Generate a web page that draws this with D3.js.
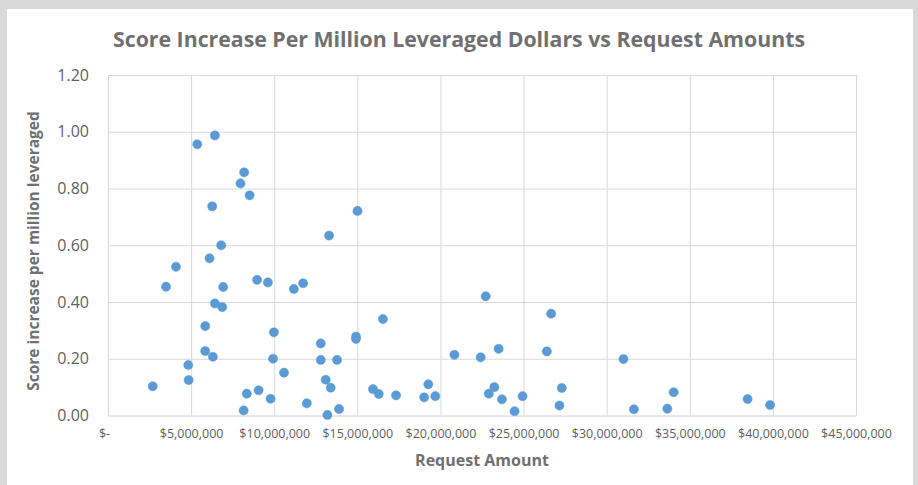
<!DOCTYPE html>
<html>
<head>
<meta charset="utf-8">
<script src="https://cdn.jsdelivr.net/npm/d3@7"></script>
<style>
	body { margin: 0; background: #d9d9d9; }
	.container { width: 918px; height: 485px; }
	text { font-family: "Open Sans", "Noto Sans", sans-serif; fill: #595959; }
</style>
</head>
<body>
<div class="container"></div>
<script>

// request amount in dollars
var requestAmounts = [2.69e6, 3.49e6, 4.09e6, 4.83e6, 4.85e6, 5.37e6, 6.43e6, 5.85e6, 5.85e6, 6.11e6,
	6.27e6, 6.31e6, 6.43e6, 6.81e6, 6.93e6, 6.87e6, 7.97e6, 8.19e6, 8.52e6, 8.16e6,
	8.35e6, 8.97e6, 9.06e6, 9.62e6, 9.78e6, 9.98e6, 9.93e6, 10.59e6, 11.18e6, 11.74e6,
	11.96e6, 12.80e6, 12.80e6, 13.10e6, 13.30e6, 13.40e6, 13.20e6, 13.78e6, 13.90e6, 14.92e6,
	14.92e6, 15.01e6, 15.94e6, 16.29e6, 16.54e6, 17.33e6, 19.02e6, 19.27e6, 19.69e6, 20.84e6,
	22.42e6, 22.72e6, 22.91e6, 23.24e6, 23.50e6, 23.70e6, 24.46e6, 24.94e6, 26.40e6, 26.66e6,
	27.16e6, 27.30e6, 31.01e6, 31.64e6, 33.65e6, 34.03e6, 38.48e6, 39.83e6];

var scoreIncrease = [0.103, 0.454, 0.524, 0.178, 0.125, 0.956, 0.987, 0.315, 0.227, 0.554,
	0.737, 0.207, 0.395, 0.600, 0.453, 0.382, 0.818, 0.857, 0.776, 0.018,
	0.077, 0.478, 0.089, 0.469, 0.059, 0.293, 0.200, 0.151, 0.446, 0.466,
	0.043, 0.254, 0.196, 0.126, 0.634, 0.098, 0.002, 0.196, 0.023, 0.278,
	0.270, 0.721, 0.093, 0.076, 0.340, 0.071, 0.064, 0.110, 0.068, 0.214,
	0.205, 0.420, 0.077, 0.100, 0.235, 0.057, 0.015, 0.068, 0.226, 0.359,
	0.035, 0.097, 0.199, 0.022, 0.024, 0.082, 0.058, 0.037];

var xTicks = [0, 5e6, 10e6, 15e6, 20e6, 25e6, 30e6, 35e6, 40e6, 45e6];
var yTicks = [0, 0.2, 0.4, 0.6, 0.8, 1.0, 1.2];

var chartTitle = "Score Increase Per Million Leveraged Dollars vs Request Amounts";
var xTitle = "Request Amount";
var yTitle = "Score increase per million leveraged";

var W = 918, H = 485;
var plotLeft = 108, plotRight = 856, plotTop = 75, plotBottom = 415.5;

var svg = d3.select(".container").append("svg")
	.attr("width", W)
	.attr("height", H);

// white chart panel
svg.append("rect")
	.attr("x", 7).attr("y", 9)
	.attr("width", 906).attr("height", H - 9)
	.style("fill", "white");

var x = d3.scaleLinear().domain([0, 45e6]).range([plotLeft, plotRight]);
var y = d3.scaleLinear().domain([0, 1.2]).range([plotBottom, plotTop]);

var fmtMoney = d3.format("$,.0f");

var xAxis = svg.append("g")
	.attr("transform", "translate(0," + plotBottom + ")")
	.call(d3.axisBottom(x)
		.tickValues(xTicks)
		.tickSize(-(plotBottom - plotTop))
		.tickPadding(14)
		.tickFormat(function(d) { return d == 0 ? "$-" : fmtMoney(d); }));

var yAxis = svg.append("g")
	.attr("transform", "translate(" + plotLeft + ",0)")
	.call(d3.axisLeft(y)
		.tickValues(yTicks)
		.tickSize(-(plotRight - plotLeft))
		.tickPadding(19)
		.tickFormat(d3.format(".2f")));

[xAxis, yAxis].forEach(function(ax) {
	ax.select(".domain").remove();
	ax.selectAll(".tick line").style("stroke", "#d9d9d9").style("stroke-width", "1px");
});
yAxis.selectAll(".tick").filter(function(d) { return d == 0; })
	.select("line").style("stroke", "#d0d0d0");

xAxis.selectAll(".tick text")
	.style("font-size", "12.5px")
	.style("fill", "#5f5f5f");
xAxis.selectAll(".tick text").filter(function(d) { return d == 0; })
	.attr("dx", -4);

yAxis.selectAll(".tick text")
	.style("font-size", "16px")
	.style("fill", "#5f5f5f");

// points
svg.append("g").selectAll("circle")
	.data(requestAmounts)
	.enter()
	.append("circle")
	.attr("cx", function(d) { return x(d); })
	.attr("cy", function(d, i) { return y(scoreIncrease[i]); })
	.attr("r", 4.6)
	.style("fill", "#5b9bd5")
	.style("stroke", "#5b9bd5")
	.style("stroke-width", "0.5px");

svg.append("text")
	.attr("x", 459).attr("y", 47)
	.attr("text-anchor", "middle")
	.attr("textLength", 692)
	.attr("lengthAdjust", "spacingAndGlyphs")
	.style("font-size", "21px")
	.style("font-weight", "bold")
	.style("fill", "#707070")
	.text(chartTitle);

svg.append("text")
	.attr("x", (plotLeft + plotRight) / 2).attr("y", 466)
	.attr("text-anchor", "middle")
	.style("font-size", "16px")
	.style("font-weight", "bold")
	.style("fill", "#707070")
	.text(xTitle);

svg.append("text")
	.attr("transform", "translate(39,251) rotate(-90)")
	.attr("text-anchor", "middle")
	.style("font-size", "15.5px")
	.style("font-weight", "bold")
	.style("fill", "#707070")
	.text(yTitle);

</script>
</body>
</html>
